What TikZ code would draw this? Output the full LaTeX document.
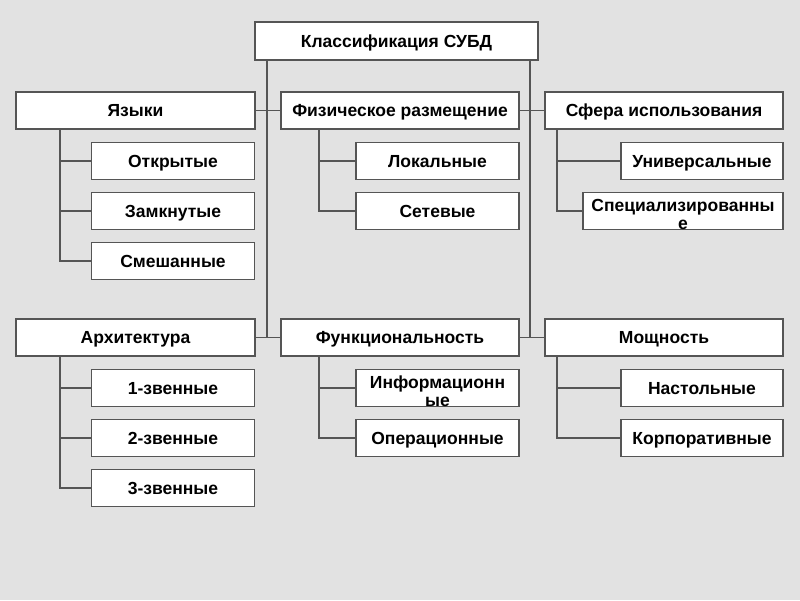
\documentclass[tikz,border=0pt]{standalone}
\usepackage{fontspec}
\setmainfont{Liberation Sans}
\usetikzlibrary{positioning,calc}
\definecolor{MarbleGray}{RGB}{226,226,226}
\definecolor{LineGray}{RGB}{85,85,85}
\tikzset{
  box/.style={draw=LineGray,fill=white,line width=1.5pt,inner sep=0pt,
    minimum height=37pt,align=center,text height=15pt,text depth=2.4pt,
    font=\fontsize{17.5}{18}\selectfont\bfseries},
  cat/.style={box,minimum width=238pt},
  leaf/.style={box,minimum width=163pt},
  wrap/.style={text height=36pt,text depth=0pt},
  link/.style={draw=LineGray,line width=1.4pt},
}

\begin{document}
\begin{tikzpicture}[x=1pt,y=-1pt]
\useasboundingbox (0,0) rectangle (800,600);
\fill[MarbleGray] (0,0) rectangle (800,600);
\node[box,minimum width=283pt,minimum height=38pt] (root) at (396.5,41) {Классификация СУБД};
\node[cat,minimum width=239pt] (lang) at (135.5,110.5) {Языки};
\node[cat] (phys) at (400,110.5) {Физическое размещение};
\node[cat] (sphere) at (664,110.5) {Сфера использования};
\node[cat,minimum width=239pt] (arch) at (135.5,337.5) {Архитектура};
\node[cat] (func) at (400,337.5) {Функциональность};
\node[cat] (power) at (664,337.5) {Мощность};
\node[leaf] (open) at (173,161) {Открытые};
\node[leaf] (closed) at (173,211) {Замкнутые};
\node[leaf] (mixed) at (173,261) {Смешанные};
\node[leaf] (local) at (437.5,161) {Локальные};
\node[leaf] (network) at (437.5,211) {Сетевые};
\node[leaf,minimum width=162pt] (universal) at (702,161) {Универсальные};
\node[leaf,wrap,minimum width=200pt] (special) at (683,211) {Специализированны\\е};
\node[leaf] (one) at (173,388) {1-звенные};
\node[leaf] (two) at (173,438) {2-звенные};
\node[leaf] (three) at (173,488) {3-звенные};
\node[leaf,wrap] (info) at (437.5,388) {Информационн\\ые};
\node[leaf] (oper) at (437.5,438) {Операционные};
\node[leaf,minimum width=162pt] (desk) at (702,388) {Настольные};
\node[leaf,minimum width=162pt] (corp) at (702,438) {Корпоративные};
\coordinate (mL) at (267,337.5);
\coordinate (mR) at (530,337.5);
\coordinate (tA) at (60,0);
\coordinate (tB) at (319,0);
\coordinate (tC) at (557,0);
\draw[link] (root.south -| mL) -- (mL);
\draw[link] (root.south -| mR) -- (mR);
\draw[link] (lang.east) -- (phys.west);
\draw[link] (phys.east) -- (sphere.west);
\draw[link] (arch.east) -- (func.west);
\draw[link] (func.east) -- (power.west);
\draw[link] (lang.south -| tA) |- (open.west);
\draw[link] (lang.south -| tA) |- (closed.west);
\draw[link] (lang.south -| tA) |- (mixed.west);
\draw[link] (phys.south -| tB) |- (local.west);
\draw[link] (phys.south -| tB) |- (network.west);
\draw[link] (sphere.south -| tC) |- (universal.west);
\draw[link] (sphere.south -| tC) |- (special.west);
\draw[link] (arch.south -| tA) |- (one.west);
\draw[link] (arch.south -| tA) |- (two.west);
\draw[link] (arch.south -| tA) |- (three.west);
\draw[link] (func.south -| tB) |- (info.west);
\draw[link] (func.south -| tB) |- (oper.west);
\draw[link] (power.south -| tC) |- (desk.west);
\draw[link] (power.south -| tC) |- (corp.west);
\end{tikzpicture}
\end{document}
